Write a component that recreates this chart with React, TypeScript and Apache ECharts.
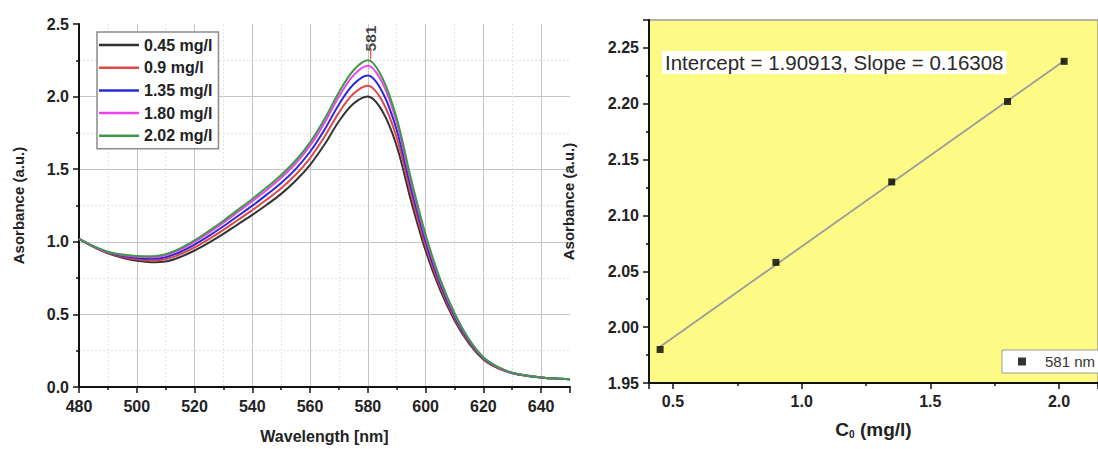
import React, { useEffect, useRef } from "react";
import * as echarts from "echarts";

const wavelengths = [480, 485, 490, 495, 500, 505, 510, 515, 520, 525, 530, 535, 540, 545, 550, 555, 560, 565, 570, 575, 580, 585, 590, 595, 600, 605, 610, 615, 620, 625, 630, 635, 640, 645, 650];
const abs045 = [1.02, 0.965, 0.92, 0.89, 0.87, 0.86, 0.865, 0.895, 0.94, 0.995, 1.055, 1.12, 1.185, 1.255, 1.33, 1.42, 1.53, 1.67, 1.83, 1.95, 2.0, 1.9, 1.66, 1.28, 0.94, 0.67, 0.46, 0.3, 0.19, 0.13, 0.095, 0.077, 0.066, 0.058, 0.054];
const abs090 = [1.02, 0.967, 0.924, 0.897, 0.88, 0.872, 0.88, 0.913, 0.961, 1.019, 1.082, 1.15, 1.218, 1.291, 1.369, 1.462, 1.577, 1.723, 1.89, 2.019, 2.075, 1.969, 1.717, 1.325, 0.973, 0.693, 0.475, 0.309, 0.195, 0.132, 0.096, 0.078, 0.066, 0.058, 0.054];
const abs135 = [1.02, 0.968, 0.927, 0.903, 0.889, 0.883, 0.894, 0.93, 0.981, 1.041, 1.107, 1.178, 1.249, 1.325, 1.405, 1.501, 1.62, 1.772, 1.946, 2.083, 2.145, 2.033, 1.77, 1.367, 1.004, 0.714, 0.489, 0.317, 0.199, 0.135, 0.097, 0.078, 0.066, 0.058, 0.054];
const abs180 = [1.02, 0.969, 0.93, 0.909, 0.897, 0.894, 0.908, 0.946, 1.0, 1.063, 1.132, 1.205, 1.279, 1.357, 1.441, 1.539, 1.662, 1.819, 2.0, 2.146, 2.213, 2.096, 1.822, 1.408, 1.034, 0.734, 0.503, 0.326, 0.203, 0.137, 0.098, 0.079, 0.066, 0.058, 0.054];
const abs202 = [1.02, 0.97, 0.932, 0.912, 0.902, 0.9, 0.915, 0.955, 1.01, 1.075, 1.145, 1.22, 1.295, 1.375, 1.46, 1.56, 1.685, 1.845, 2.03, 2.18, 2.25, 2.13, 1.85, 1.43, 1.05, 0.745, 0.51, 0.33, 0.205, 0.138, 0.099, 0.079, 0.066, 0.058, 0.054];

const spectraNames = ["0.45 mg/l", "0.9 mg/l", "1.35 mg/l", "1.80 mg/l", "2.02 mg/l"];
const spectraColors = ["#333333", "#e04848", "#2a2ad8", "#f040f0", "#3c9a48"];
const spectra = [abs045, abs090, abs135, abs180, abs202];

const peakWavelength = 581;
const peakTick = [2.258, 2.33];
const peakLabelY = 2.4;

const concentrations = [0.45, 0.9, 1.35, 1.8, 2.02];
const absorbance581 = [1.98, 2.058, 2.13, 2.202, 2.238];
const fitX = [0.45, 2.02];
const fitY = [1.9825, 2.2385];
const fitText = "Intercept = 1.90913, Slope = 0.16308";
const pointsName = "581 nm";

const FONT = "'Liberation Sans', Arial, Helvetica, sans-serif";

export default function App() {
  const ref = useRef<HTMLDivElement>(null);

  useEffect(() => {
    document.body.style.margin = "0";
    if (!ref.current) return;
    const chart = echarts.init(ref.current, null, { renderer: "svg" });

    const axisLineStyle = { color: "#111", width: 2 };
    const labelStyle = { color: "#222", fontSize: 16, fontWeight: "bold" as const, fontFamily: FONT };

    const option: any = {
      animation: false,
      backgroundColor: "#ffffff",
      textStyle: { fontFamily: FONT },
      title: {
        text: fitText,
        left: 662,
        top: 51,
        padding: [1, 3, 1, 3],
        backgroundColor: "#ffffff",
        textStyle: { fontSize: 20.5, fontWeight: "normal", color: "#2a2a2a", fontFamily: FONT },
      },
      graphic: [
        {
          type: "rect",
          shape: { x: 1002, y: 350, width: 130, height: 23 },
          style: { fill: "#ffffff", stroke: "#9a9a9a", lineWidth: 1 },
          z: 3,
          silent: true,
        },
      ],
      grid: [
        { left: 79, top: 24, width: 491, height: 369, show: false },
        {
          left: 649,
          top: 20,
          right: 0,
          bottom: 66,
          show: true,
          backgroundColor: "#fdfa86",
          borderColor: "#9a9a9a",
          borderWidth: 1.5,
        },
      ],
      legend: [
        {
          data: spectraNames,
          orient: "vertical",
          left: 97,
          top: 32,
          padding: [5, 6, 5, 2],
          itemGap: 6.7,
          itemWidth: 40,
          itemHeight: 2.5,
          icon: "rect",
          backgroundColor: "#ffffff",
          borderColor: "#8a8a8a",
          borderWidth: 1.5,
          borderRadius: 0,
          textStyle: { fontSize: 16, fontWeight: "bold", color: "#222", fontFamily: FONT },
        },
        {
          data: [pointsName],
          left: 1002,
          top: 350,
          padding: [4, 10, 4, 16],
          itemWidth: 8,
          itemHeight: 8,
          icon: "rect",
          z: 10,
          textStyle: { fontSize: 15, color: "#333", fontFamily: FONT, padding: [0, 0, 0, 14] },
        },
      ],
      xAxis: [
        {
          type: "value",
          gridIndex: 0,
          min: 480,
          max: 650,
          interval: 20,
          name: "Wavelength [nm]",
          nameLocation: "middle",
          nameGap: 41,
          nameTextStyle: { fontSize: 16, fontWeight: "bold", color: "#222", fontFamily: FONT },
          axisLine: { show: true, lineStyle: axisLineStyle },
          axisTick: { show: true, inside: false, length: 6, lineStyle: { color: "#111", width: 1.5 } },
          minorTick: { show: true, splitNumber: 2, length: 3, lineStyle: { color: "#111", width: 1.5 } },
          splitLine: { show: true, showMinLine: false, showMaxLine: false, lineStyle: { color: "#c4c4c4", width: 1 } },
          minorSplitLine: { show: true, lineStyle: { color: "#e2e2e2", width: 1, type: [2, 2] } },
          axisLabel: { ...labelStyle, margin: 11, showMaxLabel: false },
        },
        {
          type: "value",
          gridIndex: 1,
          min: 0.4068,
          max: 2.1515,
          splitNumber: 4,
          name: "C{sub|0} (mg/l)",
          nameLocation: "middle",
          nameGap: 36,
          nameTextStyle: {
            fontSize: 19,
            fontWeight: "bold",
            color: "#222",
            fontFamily: FONT,
            rich: { sub: { fontSize: 10, fontWeight: "bold", color: "#222", verticalAlign: "bottom", padding: [10, 0, 0, 0], fontFamily: FONT } },
          },
          axisLine: { show: true, lineStyle: axisLineStyle },
          axisTick: { show: true, inside: false, length: 6, lineStyle: { color: "#111", width: 1.5 } },
          minorTick: { show: true, splitNumber: 2, length: 3, lineStyle: { color: "#111", width: 1.5 } },
          splitLine: { show: false },
          axisLabel: {
            ...labelStyle,
            margin: 10,
            showMinLabel: false,
            showMaxLabel: false,
            formatter: (v: number) => v.toFixed(1),
          },
        },
      ],
      yAxis: [
        {
          type: "value",
          gridIndex: 0,
          min: 0,
          max: 2.5,
          interval: 0.5,
          name: "Asorbance (a.u.)",
          nameLocation: "middle",
          nameGap: 53,
          nameTextStyle: { fontSize: 15, fontWeight: "bold", color: "#222", fontFamily: FONT },
          axisLine: { show: true, lineStyle: axisLineStyle },
          axisTick: { show: true, inside: false, length: 6, lineStyle: { color: "#111", width: 1.5 } },
          minorTick: { show: true, splitNumber: 2, length: 3, lineStyle: { color: "#111", width: 1.5 } },
          splitLine: { show: true, showMinLine: false, showMaxLine: false, lineStyle: { color: "#c4c4c4", width: 1 } },
          minorSplitLine: { show: true, lineStyle: { color: "#e2e2e2", width: 1, type: [2, 2] } },
          axisLabel: { ...labelStyle, margin: 10, formatter: (v: number) => v.toFixed(1) },
        },
        {
          type: "value",
          gridIndex: 1,
          min: 1.95,
          max: 2.275,
          interval: 0.05,
          name: "Asorbance (a.u.)",
          nameLocation: "middle",
          nameGap: 73,
          nameTextStyle: { fontSize: 15, fontWeight: "bold", color: "#222", fontFamily: FONT },
          axisLine: { show: true, lineStyle: axisLineStyle },
          axisTick: { show: true, inside: false, length: 6, lineStyle: { color: "#111", width: 1.5 } },
          minorTick: { show: true, splitNumber: 2, length: 3, lineStyle: { color: "#111", width: 1.5 } },
          splitLine: { show: false },
          axisLabel: { ...labelStyle, margin: 10, showMaxLabel: false, formatter: (v: number) => v.toFixed(2) },
        },
      ],
      series: [
        ...spectra.map((vals, i) => ({
          name: spectraNames[i],
          type: "line",
          xAxisIndex: 0,
          yAxisIndex: 0,
          data: wavelengths.map((w, j) => [w, vals[j]]),
          smooth: 0.35,
          symbol: "none",
          lineStyle: { color: spectraColors[i], width: 2 },
          itemStyle: { color: spectraColors[i] },
          z: 2 + i,
        })),
        {
          name: "peakTick",
          type: "line",
          xAxisIndex: 0,
          yAxisIndex: 0,
          data: peakTick.map((y) => [peakWavelength, y]),
          symbol: "none",
          lineStyle: { color: "#e05050", width: 1.2 },
          silent: true,
          z: 10,
        },
        {
          name: "peakLabel",
          type: "scatter",
          xAxisIndex: 0,
          yAxisIndex: 0,
          data: [[peakWavelength, peakLabelY]],
          symbolSize: 0,
          silent: true,
          label: {
            show: true,
            position: "inside",
            rotate: 90,
            formatter: String(peakWavelength),
            fontSize: 15.5,
            fontWeight: "bold",
            color: "#111",
            fontFamily: FONT,
          },
        },
        {
          name: "fit",
          type: "line",
          xAxisIndex: 1,
          yAxisIndex: 1,
          data: fitX.map((x, i) => [x, fitY[i]]),
          symbol: "none",
          lineStyle: { color: "#9c9c9c", width: 1.8 },
          silent: true,
          z: 2,
        },
        {
          name: pointsName,
          type: "scatter",
          xAxisIndex: 1,
          yAxisIndex: 1,
          data: concentrations.map((c, i) => [c, absorbance581[i]]),
          symbol: "rect",
          symbolSize: 7,
          itemStyle: { color: "#000000" },
          z: 5,
        },
      ],
    };

    chart.setOption(option);
    return () => chart.dispose();
  }, []);

  return <div ref={ref} style={{ width: 1098, height: 449 }} />;
}
